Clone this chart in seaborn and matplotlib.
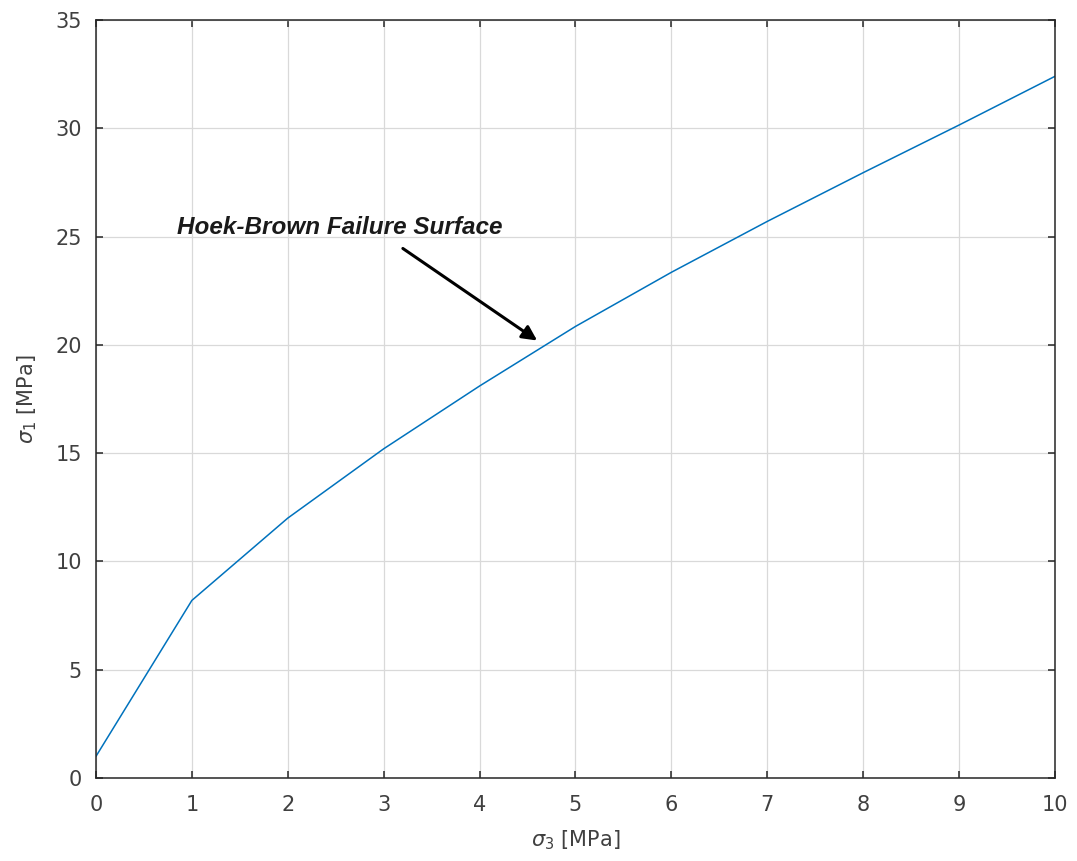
import matplotlib
matplotlib.use("Agg")
import matplotlib.pyplot as plt
import seaborn as sns
import pandas as pd

sigma3 = [0, 1, 2, 3, 4, 5, 6, 7, 8, 9, 10]
sigma1 = [1.0, 8.2, 12.0, 15.2, 18.1, 20.85, 23.35, 25.7, 27.95, 30.15, 32.4]
x_ticks = [0, 1, 2, 3, 4, 5, 6, 7, 8, 9, 10]
y_ticks = [0, 5, 10, 15, 20, 25, 30, 35]
annot_text = "Hoek-Brown Failure Surface"

sns.set_theme(style="whitegrid")
plt.rcParams['font.family'] = ['DejaVu Sans']
plt.rcParams['mathtext.fontset'] = 'dejavusans'

df = pd.DataFrame({"s3": sigma3, "s1": sigma1})

fig = plt.figure(figsize=(10.77, 8.61), dpi=100)
ax = fig.add_axes([0.0891, 0.0964, 0.8905, 0.8804])
sns.lineplot(data=df, x="s3", y="s1", ax=ax, color="#0072BD", linewidth=1.1)

ax.set_xlim(0, 10)
ax.set_ylim(0, 35)
ax.set_xticks(x_ticks)
ax.set_yticks(y_ticks)
ax.grid(True, color="#D9D9D9", linewidth=0.9)
ax.set_facecolor("white")
for sp in ax.spines.values():
    sp.set_color("#262626")
    sp.set_linewidth(1.1)
    sp.set_visible(True)
ax.tick_params(direction="in", length=5, width=1.1, color="#262626",
               top=True, right=True, bottom=True, left=True,
               labelsize=15, labelcolor="#404040")
ax.tick_params(axis="x", pad=12)
ax.tick_params(axis="y", pad=10)
ax.set_xlabel(r"$\sigma_3$ [MPa]", fontsize=15, color="#404040", labelpad=10)
ax.set_ylabel(r"$\sigma_1$ [MPa]", fontsize=15, color="#404040", labelpad=12)

ax.text(0.85, 25.4, annot_text, fontsize=17.5, fontweight="bold", fontstyle="italic",
        family=["Liberation Sans", "DejaVu Sans"], color="#1a1a1a",
        ha="left", va="center")
ax.annotate("", xy=(4.6, 20.2), xytext=(3.2, 24.45),
            arrowprops=dict(arrowstyle="-|>", color="black", lw=2.2,
                            mutation_scale=22, shrinkA=0, shrinkB=0),
            annotation_clip=False)

fig.savefig("out.png", dpi=100, facecolor="white")
